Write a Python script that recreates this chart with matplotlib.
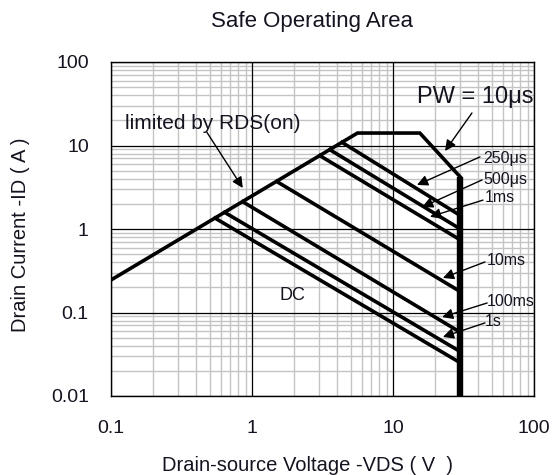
import matplotlib
matplotlib.use("Agg")
import matplotlib.pyplot as plt
from matplotlib.ticker import LogLocator, NullFormatter

plt.rcParams['font.family'] = ['Liberation Sans', 'DejaVu Sans']

# outer limit: RDS(on) line, 10us flat top, 10us slope down to 30 V
env_v = [0.1, 5.6, 15.5, 30]
env_i = [0.245, 14.1, 14.1, 4.2]
vmax_v = [30, 30]
vmax_i = [4.2, 0.01]

# pulse-width lines: start point on RDS line, end at VDS = 30 V
pulse_names = ['250μs', '500μs', '1ms', '10ms', '100ms', '1s', 'DC']
start_v = [4.35, 3.57, 3.03, 1.50, 0.86, 0.64, 0.547]
start_i = [10.9, 8.9, 7.55, 3.7, 2.12, 1.58, 1.35]
end_v = [30, 30, 30, 30, 30, 30, 30]
end_i = [1.45, 1.0, 0.74, 0.178, 0.058, 0.034, 0.025]

x_ticks = [0.1, 1, 10, 100]
x_labels = ['0.1', '1', '10', '100']
y_ticks = [0.01, 0.1, 1, 10, 100]
y_labels = ['0.01', '0.1', '1', '10', '100']

txt = '#141420'

fig = plt.figure(figsize=(5.56, 4.75), dpi=100)
ax = fig.add_axes([111 / 556, 1 - 396 / 475, 423 / 556, 334 / 475])
ax.set_xscale('log')
ax.set_yscale('log')
ax.set_xlim(0.1, 100)
ax.set_ylim(0.01, 100)

ax.xaxis.set_minor_locator(LogLocator(base=10, subs=range(2, 10)))
ax.yaxis.set_minor_locator(LogLocator(base=10, subs=range(2, 10)))
ax.xaxis.set_minor_formatter(NullFormatter())
ax.yaxis.set_minor_formatter(NullFormatter())
ax.grid(which='minor', color='#c4c4c4', lw=1.0, zorder=0)
ax.set_axisbelow(True)
# decade lines drawn on top of the light minor grid
for t in x_ticks:
    ax.axvline(t, color='black', lw=0.9, zorder=1)
for t in y_ticks:
    ax.axhline(t, color='black', lw=0.9, zorder=1)

ax.set_xticks(x_ticks, x_labels)
ax.set_yticks(y_ticks, y_labels)
ax.tick_params(which='both', length=0, labelsize=14, colors=txt)
ax.tick_params(axis='x', pad=17)
ax.tick_params(axis='y', pad=16)
for s in ax.spines.values():
    s.set_linewidth(1.0)

ax.plot(env_v, env_i, color='black', lw=2.6, solid_joinstyle='miter', zorder=3)
ax.plot(vmax_v, vmax_i, color='black', lw=4.6, solid_capstyle='butt', clip_on=False, zorder=3)
for i in range(len(pulse_names)):
    ax.plot([start_v[i], end_v[i]], [start_i[i], end_i[i]], color='black', lw=2.6, zorder=3)

arr = dict(arrowstyle='-|>', color='black', lw=1.0, mutation_scale=16,
           shrinkA=0, shrinkB=0)

ax.text(14.8, 38, 'PW = 10μs', fontsize=17, color=txt, va='center', ha='left')
ax.annotate('', xy=(23.4, 8.6), xytext=(36.3, 24.5), arrowprops=arr)

ax.text(0.1257, 18.1, 'limited by RDS(on)', fontsize=15, color=txt, va='center', ha='left')
ax.annotate('', xy=(0.86, 3.1), xytext=(0.48, 14.3), arrowprops=arr)

ax.text(1.95, 0.162, 'DC', fontsize=13, color=txt, va='center', ha='center')

# small labels at the right with arrows to their lines
ax.text(43.5, 6.9, '250μs', fontsize=11.5, color=txt, va='center', ha='left')
ax.annotate('', xy=(14.8, 3.37), xytext=(41.4, 7.3), arrowprops=arr)
ax.text(43.5, 3.87, '500μs', fontsize=11.5, color=txt, va='center', ha='left')
ax.annotate('', xy=(16.1, 1.83), xytext=(42.8, 3.87), arrowprops=arr)
ax.text(44.9, 2.41, '1ms', fontsize=11.5, color=txt, va='center', ha='left')
ax.annotate('', xy=(18.3, 1.4), xytext=(43.5, 2.22), arrowprops=arr)
ax.text(46.5, 0.425, '10ms', fontsize=11.5, color=txt, va='center', ha='left')
ax.annotate('', xy=(22.6, 0.259), xytext=(44.9, 0.403), arrowprops=arr)
ax.text(46.5, 0.137, '100ms', fontsize=11.5, color=txt, va='center', ha='left')
ax.annotate('', xy=(22.3, 0.088), xytext=(46.5, 0.130), arrowprops=arr)
ax.text(44.9, 0.079, '1s', fontsize=11.5, color=txt, va='center', ha='left')
ax.annotate('', xy=(22.6, 0.051), xytext=(44.9, 0.075), arrowprops=arr)

ax.set_xlabel('Drain-source Voltage -VDS ( V  )', fontsize=14.5, color=txt)
ax.xaxis.set_label_coords((308 - 111) / 423, (396 - 456) / 334)
ax.set_ylabel('Drain Current -ID ( A )', fontsize=14.5, color=txt)
ax.yaxis.set_label_coords((30 - 111) / 423, (396 - 235) / 334)

fig.text(312 / 556, 1 - 22 / 475, 'Safe Operating Area', fontsize=16, color=txt,
         ha='center', va='center')

fig.savefig('out.png', dpi=100)
